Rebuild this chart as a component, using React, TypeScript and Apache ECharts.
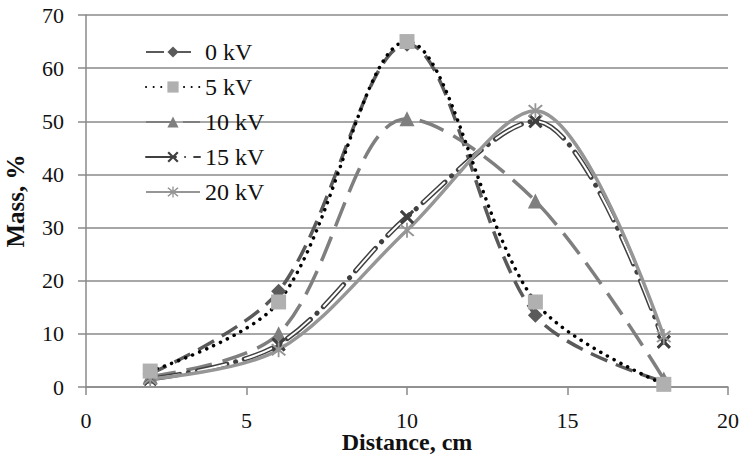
import React, { useEffect, useRef } from "react";
import * as echarts from "echarts";

const distances = [2, 6, 10, 14, 18];
const kv0 = [2.5, 18, 64.5, 13.5, 1];
const kv5 = [3, 16, 65, 16, 0.5];
const kv10 = [2, 10, 50.5, 35, 1.5];
const kv15 = [1.5, 8, 32, 50, 8.5];
const kv20 = [1.5, 7, 29.5, 52, 9.5];
const xTicks = [0, 5, 10, 15, 20];
const yTicks = [0, 10, 20, 30, 40, 50, 60, 70];

const X_PATH =
  "path://M0,1.4L1.4,0L5,3.6L8.6,0L10,1.4L6.4,5L10,8.6L8.6,10L5,6.4L1.4,10L0,8.6L3.6,5Z";
const STAR_PATH =
  "path://M0,1L1,0L5,4L9,0L10,1L6,5L10,9L9,10L5,6L1,10L0,9L4,5Z M4.4,-1H5.6V11H4.4Z";

const pairs = (ys: number[]) => distances.map((x, i) => [x, ys[i]]);
const SM = 0.33;

export default function App() {
  const ref = useRef<HTMLDivElement>(null);
  useEffect(() => {
    if (!ref.current) return;
    const chart = echarts.init(ref.current, null, { renderer: "svg" });
    const font = "'Liberation Serif', 'Times New Roman', serif";
    chart.setOption({
      animation: false,
      textStyle: { fontFamily: font },
      grid: {
        left: 86,
        right: 14,
        top: 15,
        bottom: 68,
        containLabel: false,
        outerBoundsMode: "none",
      },
      legend: {
        orient: "vertical",
        left: 140,
        top: 35,
        itemWidth: 54,
        itemHeight: 14,
        itemGap: 11,
        data: ["0 kV", "5 kV", "10 kV", "15 kV", "20 kV"],
        textStyle: { fontFamily: font, fontSize: 24, color: "#111" },
      },
      xAxis: {
        type: "value",
        min: xTicks[0],
        max: xTicks[xTicks.length - 1],
        interval: 5,
        name: "Distance, cm",
        nameLocation: "middle",
        nameGap: 43,
        nameMoveOverlap: false,
        nameTextStyle: { fontFamily: font, fontSize: 24, fontWeight: "bold", color: "#111" },
        axisLine: { lineStyle: { color: "#8a8a8a", width: 1.5 } },
        axisTick: { show: true, length: 8, lineStyle: { color: "#8a8a8a", width: 1.5 } },
        axisLabel: { fontFamily: font, fontSize: 22, color: "#111", margin: 22 },
        splitLine: { show: false },
      },
      yAxis: {
        type: "value",
        min: yTicks[0],
        max: yTicks[yTicks.length - 1],
        interval: 10,
        name: "Mass, %",
        nameLocation: "middle",
        nameGap: 58,
        nameMoveOverlap: false,
        nameTextStyle: { fontFamily: font, fontSize: 25, fontWeight: "bold", color: "#111" },
        axisLine: { show: true, lineStyle: { color: "#8a8a8a", width: 1.5 } },
        axisTick: { show: true, length: 8, lineStyle: { color: "#8a8a8a", width: 1.5 } },
        axisLabel: { fontFamily: font, fontSize: 22, color: "#111", margin: 22 },
        splitLine: { show: true, lineStyle: { color: "#8a8a8a", width: 1.5 } },
      },
      series: [
        {
          name: "0 kV",
          type: "line",
          smooth: SM,
          data: pairs(kv0),
          symbol: "diamond",
          symbolSize: 15,
          itemStyle: { color: "#5a5a5a" },
          lineStyle: { color: "#5a5a5a", width: 3.5, type: [18, 9] },
        },
        {
          name: "10 kV",
          type: "line",
          smooth: SM,
          data: pairs(kv10),
          symbol: "triangle",
          symbolSize: 15,
          itemStyle: { color: "#7f7f7f" },
          lineStyle: { color: "#7f7f7f", width: 3.5, type: [26, 11] },
        },
        {
          name: "15 kV",
          type: "line",
          smooth: SM,
          data: pairs(kv15),
          symbol: X_PATH,
          symbolSize: 14,
          itemStyle: { color: "#404040" },
          lineStyle: { color: "#404040", width: 5, type: [30, 9, 0.1, 9], cap: "round" },
        },
        {
          name: "15 kV inner",
          type: "line",
          smooth: SM,
          data: pairs(kv15),
          symbol: "none",
          silent: true,
          lineStyle: { color: "#ffffff", width: 2, type: [30, 18.1], cap: "butt" },
        },
        {
          name: "15 kV marks",
          type: "line",
          data: pairs(kv15),
          symbol: X_PATH,
          symbolSize: 14,
          itemStyle: { color: "#404040" },
          lineStyle: { opacity: 0, width: 0 },
        },
        {
          name: "20 kV",
          type: "line",
          smooth: SM,
          data: pairs(kv20),
          symbol: STAR_PATH,
          symbolSize: 15,
          itemStyle: { color: "#969696" },
          lineStyle: { color: "#969696", width: 3.5 },
        },
        {
          name: "5 kV",
          type: "line",
          smooth: SM,
          data: pairs(kv5),
          symbol: "rect",
          symbolSize: 15,
          itemStyle: { color: "#b0b0b0" },
          lineStyle: { color: "#000000", width: 3.5, type: [0.1, 7.5], cap: "round" },
        },
      ],
    });
    return () => chart.dispose();
  }, []);
  return (
    <div
      ref={ref}
      style={{ position: "absolute", left: 0, top: 0, width: 742, height: 455 }}
    />
  );
}
